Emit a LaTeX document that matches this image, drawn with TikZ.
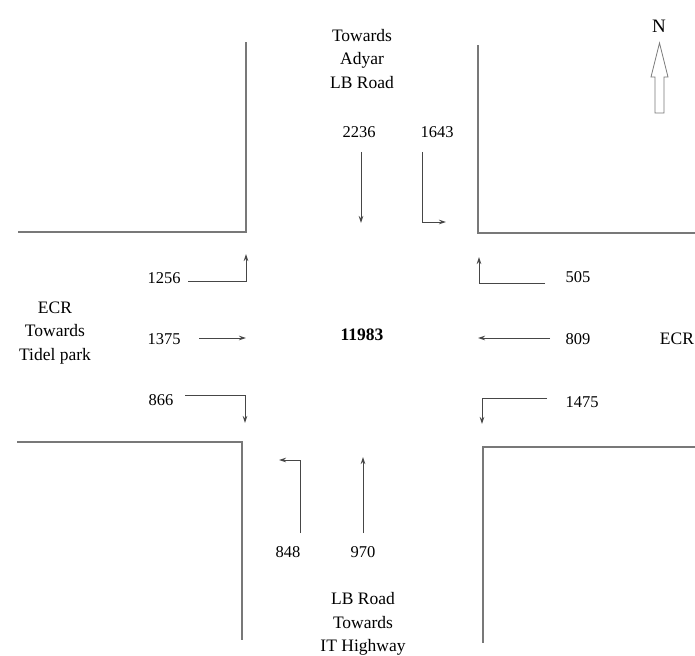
\documentclass[tikz,border=0pt]{standalone}
\usepackage{fontspec}
\setmainfont{Liberation Serif}
\usetikzlibrary{arrows.meta}
\definecolor{roadgray}{RGB}{120, 120, 120}
\definecolor{flowgray}{RGB}{70, 70, 70}

\begin{document}
\begin{tikzpicture}[x=1pt, y=-1pt,
  place/.style={font=\fontsize{17.5}{23.5}\selectfont, align=center, inner sep=1pt},
  flowcount/.style={font=\fontsize{16.5}{19}\selectfont, inner sep=1pt},
  total/.style={font=\fontsize{17.5}{20}\selectfont\bfseries, inner sep=1pt},
  road/.style={draw=roadgray, line width=1.2pt},
  flow/.style={draw=flowgray, line width=0.9pt, -{Stealth[length=7pt,width=4.5pt]}}
]
\useasboundingbox (0,0) rectangle (695,655);
% roads
\draw[road] (18,232) -| (246,42);
\draw[road] (695,233) -| (478,45);
\draw[road] (17,442) -| (242,640);
\draw[road] (695,447) -| (483,643);
% north
\node[font=\fontsize{19}{22}\selectfont, inner sep=1pt] (north) at (659,26) {N};
\draw[roadgray, line width=0.8pt] (659.5,43) -- (668,77) -- (664,77) -- (664,113) -- (655,113) -- (655,77) -- (651,77) -- cycle;
% places
\node[place] (adyar) at (362,59) {Towards\\Adyar\\LB Road};
\node[place] (tidel) at (55,333) {ECR\\Towards\\Tidel park};
\node[place] (ecr) at (677,339) {ECR};
\node[place] (ithigh) at (363,624) {LB Road\\Towards\\IT Highway};
\node[total] (sum) at (362,335) {11983};
% counts
\node[flowcount] (n2236) at (359,132) {2236};
\node[flowcount] (n1643) at (437,132) {1643};
\node[flowcount] (n1256) at (164,278) {1256};
\node[flowcount] (n1375) at (164,339) {1375};
\node[flowcount] (n866) at (161,400) {866};
\node[flowcount] (n505) at (578,277) {505};
\node[flowcount] (n809) at (578,339) {809};
\node[flowcount] (n1475) at (582,402) {1475};
\node[flowcount] (n848) at (288,552) {848};
\node[flowcount] (n970) at (363,552) {970};
% movement ends
\coordinate (s2236) at (361,152);
\coordinate (e2236) at (361,223);
\coordinate (s1643) at (422,152);
\coordinate (e1643) at (446,222);
\coordinate (s1256) at (188,281);
\coordinate (e1256) at (246,254);
\coordinate (s1375) at (199,338);
\coordinate (e1375) at (246,338);
\coordinate (s866) at (185,395);
\coordinate (e866) at (245,423);
\coordinate (s505) at (545,283);
\coordinate (e505) at (479,257);
\coordinate (s809) at (550,338);
\coordinate (e809) at (478,338);
\coordinate (s1475) at (547,398);
\coordinate (e1475) at (482,424);
\coordinate (s848) at (300,533);
\coordinate (e848) at (279,460);
\coordinate (s970) at (363,533);
\coordinate (e970) at (363,457);
\draw[flow] (s2236) -- (e2236);
\draw[flow] (s1643) |- (e1643);
\draw[flow] (s1256) -| (e1256);
\draw[flow] (s1375) -- (e1375);
\draw[flow] (s866) -| (e866);
\draw[flow] (s505) -| (e505);
\draw[flow] (s809) -- (e809);
\draw[flow] (s1475) -| (e1475);
\draw[flow] (s848) |- (e848);
\draw[flow] (s970) -- (e970);
\end{tikzpicture}
\end{document}
